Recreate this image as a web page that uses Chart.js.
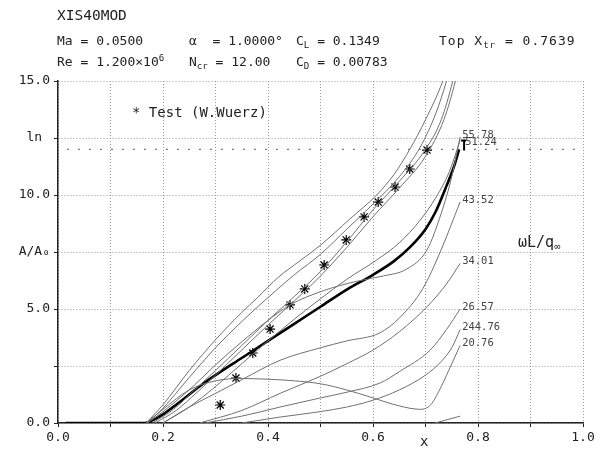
<!DOCTYPE html>
<html><head><meta charset="utf-8">
<script src="https://cdn.jsdelivr.net/npm/chart.js@4"></script>
<style>
html,body{margin:0;padding:0;background:#fff;}
#wrap{position:relative;width:605px;height:452px;overflow:hidden;background:#fff;}
canvas{position:absolute;left:0;top:0;}
.t{position:absolute;font-family:"DejaVu Sans Mono",monospace;font-size:13px;color:#222;white-space:pre;line-height:1;}
.t sub{font-size:70%;vertical-align:-3px;line-height:0;}
.t sup{font-size:70%;vertical-align:5px;line-height:0;}
</style></head><body>
<div id="wrap">
<canvas id="c" width="605" height="452"></canvas>
<div class="t" style="left:57px;top:8px;font-size:14.5px">XIS40MOD</div>
<div class="t" style="left:57px;top:34px">Ma = 0.0500</div>
<div class="t" style="left:189px;top:34px">α  = 1.0000°</div>
<div class="t" style="left:296px;top:34px">C<sub>L</sub> = 0.1349</div>
<div class="t" style="left:439px;top:34px;letter-spacing:1px">Top X<sub>tr</sub> = 0.7639</div>
<div class="t" style="left:57px;top:55px">Re = 1.200×10<sup>6</sup></div>
<div class="t" style="left:189px;top:55px">N<sub>cr</sub> = 12.00</div>
<div class="t" style="left:296px;top:55px">C<sub>D</sub> = 0.00783</div>
<div class="t" style="left:132px;top:105px;font-size:14px">* Test (W.Wuerz)</div>
<div class="t" style="left:518px;top:235px;font-size:15px">ωL/q<sub>∞</sub></div>
<div class="t" style="left:420px;top:434px;font-size:14px">x</div>
</div>
<script>
// ---- data ----
const xTickValues = [0,0.1,0.2,0.3,0.4,0.5,0.6,0.7,0.8,0.9,1.0];
const xTickLabels = ['0.0','','0.2','','0.4','','0.6','','0.8','','1.0'];
const yTickValues = [0,2.5,5,7.5,10,12.5,15];
const yTickLabels = ['0.0','','5.0','A/A₀','10.0','ln ','15.0'];

const nCrit = 12;
const nCritXStart = 0.017;

// test points (W. Wuerz)
const testX = [0.309,0.339,0.371,0.404,0.442,0.470,0.507,0.549,0.583,0.610,0.642,0.670,0.703];
const testY = [0.79,1.97,3.07,4.12,5.18,5.88,6.93,8.03,9.04,9.69,10.35,11.14,11.97];

// envelope N (thick)
const envX = [0.015,0.166,0.18,0.2,0.225,0.25,0.275,0.3,0.35,0.4,0.45,0.5,0.55,0.6,0.64,0.67,0.7,0.72,0.74,0.755,0.764];
const envY = [0,0,0.12,0.38,0.8,1.25,1.7,2.1,2.85,3.6,4.35,5.1,5.85,6.5,7.1,7.7,8.5,9.3,10.4,11.3,12.0];

// individual frequency curves [x, N]
const curveU1 = [[0.168,0],[0.2,0.8],[0.25,2.3],[0.3,3.65],[0.35,4.85],[0.38,5.5],[0.42,6.4],[0.46,7.1],[0.5,7.8],[0.556,8.95],[0.607,10.0],[0.64,10.9],[0.67,12.0],[0.7,13.3],[0.733,15],[0.74,15.5]];
const curveU2 = [[0.17,0],[0.2,0.65],[0.25,2.0],[0.3,3.3],[0.35,4.45],[0.4,5.5],[0.45,6.5],[0.5,7.4],[0.55,8.5],[0.6,9.6],[0.65,10.8],[0.69,12.1],[0.72,13.6],[0.74,15],[0.747,15.6]];
const curveL1 = [[0.18,0],[0.22,0.6],[0.26,1.45],[0.3,2.3],[0.35,3.4],[0.4,4.5],[0.45,5.55],[0.5,6.65],[0.55,7.95],[0.6,9.35],[0.65,10.6],[0.7,12.0],[0.73,13.3],[0.752,15],[0.758,15.6]];
const curveL2 = [[0.185,0],[0.225,0.55],[0.265,1.35],[0.3,2.1],[0.35,3.2],[0.4,4.3],[0.45,5.35],[0.5,6.45],[0.55,7.7],[0.6,9.05],[0.65,10.3],[0.7,11.7],[0.735,13.3],[0.757,15],[0.763,15.6]];
const curve5578 = [[0.17,0],[0.2,0.5],[0.257,1.6],[0.3,2.55],[0.347,3.5],[0.4,4.5],[0.442,5.18],[0.505,5.8],[0.566,6.2],[0.62,6.45],[0.664,6.75],[0.703,7.6],[0.73,9.2],[0.75,10.8],[0.766,12.55]];
const curve5124 = [[0.2,0],[0.25,0.7],[0.3,1.6],[0.35,2.6],[0.4,3.6],[0.45,4.55],[0.5,5.45],[0.55,6.3],[0.607,7.15],[0.65,7.9],[0.69,8.9],[0.72,9.9],[0.745,11.0],[0.766,12.4]];
const curve4352 = [[0.2,0],[0.25,0.7],[0.3,1.3],[0.35,1.9],[0.423,2.75],[0.5,3.3],[0.55,3.6],[0.613,3.95],[0.65,4.6],[0.695,5.9],[0.728,7.5],[0.766,9.7]];
const curve3401 = [[0.27,0],[0.35,0.55],[0.423,1.3],[0.5,2.05],[0.55,2.6],[0.6,3.2],[0.65,4.0],[0.703,5.1],[0.74,6.1],[0.766,7.0]];
const curve2657 = [[0.28,0],[0.35,0.3],[0.423,0.7],[0.5,1.1],[0.55,1.35],[0.613,1.75],[0.65,2.25],[0.709,3.2],[0.74,4.1],[0.766,5.0]];
const curve24476 = [[0.35,0],[0.423,0.26],[0.5,0.5],[0.55,0.7],[0.6,1.0],[0.65,1.45],[0.7,2.1],[0.73,2.7],[0.75,3.3],[0.766,4.1]];
const curve2076 = [[0.168,0],[0.2,0.6],[0.25,1.45],[0.3,1.85],[0.35,1.95],[0.4,1.92],[0.45,1.85],[0.5,1.72],[0.55,1.45],[0.6,1.1],[0.65,0.75],[0.69,0.6],[0.71,0.8],[0.73,1.6],[0.75,2.6],[0.766,3.4]];
const curveLow = [[0.718,0],[0.766,0.3]];

const labelledCurves = [curve5578,curve5124,curve4352,curve3401,curve2657,curve24476,curve2076];
const curveLabels = ['55.78','51.24','43.52','34.01','26.57','244.76','20.76'];
const plainCurves = [curveU1,curveU2,curveL1,curveL2,curveLow];

// ---- chart ----
const MONO = '"DejaVu Sans Mono", monospace';
const toPts = arr => arr.map(p => ({x:p[0], y:p[1]}));
const grayStyle = {borderColor:'#707070', borderWidth:1, pointRadius:0, cubicInterpolationMode:'monotone', fill:false};

const datasets = [];
plainCurves.concat(labelledCurves).forEach(c => datasets.push(Object.assign({data:toPts(c)}, grayStyle)));
datasets.push({data: envX.map((x,i)=>({x, y:envY[i]})), borderColor:'#000', borderWidth:2.6, pointRadius:0, cubicInterpolationMode:'monotone', fill:false});
datasets.push({data:[{x:nCritXStart,y:nCrit},{x:1,y:nCrit}], borderColor:'#777', borderWidth:1.3, borderDash:[2,9], pointRadius:0, fill:false});
datasets.push({data: testX.map((x,i)=>({x, y:testY[i]})), showLine:false, pointStyle:'star', pointRadius:5, borderColor:'#000', pointBorderWidth:1.2, backgroundColor:'#000'});

const labelPlugin = {
  id:'curveLabels',
  afterDatasetsDraw(chart){
    const {ctx, scales:{x,y}} = chart;
    ctx.save();
    ctx.font = '10.5px ' + MONO;
    ctx.fillStyle = '#444';
    ctx.textBaseline = 'middle';
    labelledCurves.forEach((c,i)=>{
      const p = c[c.length-1];
      const dx = i===1 ? 5 : 2;
      const dy = i===1 ? 2 : -2;
      ctx.fillText(curveLabels[i], x.getPixelForValue(p[0])+dx, y.getPixelForValue(p[1])+dy);
    });
    // transition marker
    const tx = x.getPixelForValue(envX[envX.length-1]) + 5;
    const ty = y.getPixelForValue(envY[envY.length-1]);
    ctx.strokeStyle = '#000'; ctx.lineWidth = 2;
    ctx.beginPath(); ctx.moveTo(tx, ty+1); ctx.lineTo(tx, ty-9); ctx.moveTo(tx-3, ty-9); ctx.lineTo(tx+2, ty-9); ctx.stroke();
    ctx.restore();
  }
};

new Chart(document.getElementById('c'), {
  type:'line',
  data:{datasets},
  options:{
    responsive:false, animation:false, devicePixelRatio:1,
    layout:{padding:{left:0,right:22,top:81,bottom:0}},
    plugins:{legend:{display:false}, tooltip:{enabled:false}},
    scales:{
      x:{type:'linear', min:0, max:1,
        afterFit(s){ s.height = 29; },
        afterBuildTicks(s){ s.ticks = xTickValues.map(v=>({value:v})); },
        ticks:{autoSkip:false, maxRotation:0, padding:3, color:'#222', font:{family:MONO, size:13},
          callback:(v)=>{ const i = xTickValues.findIndex(t=>Math.abs(t-v)<1e-6); return i>=0 ? xTickLabels[i] : ''; }},
        grid:{color:'#9a9a9a', lineWidth:1, tickLength:4, tickColor:'#222', drawTicks:true},
        border:{display:true, color:'#222', width:1.5, dash:[1,2]}
      },
      y:{type:'linear', min:0, max:15,
        afterFit(s){ s.width = 58; },
        afterBuildTicks(s){ s.ticks = yTickValues.map(v=>({value:v})); },
        ticks:{autoSkip:false, padding:4, color:'#222', font:{family:MONO, size:13},
          callback:(v)=>{ const i = yTickValues.findIndex(t=>Math.abs(t-v)<1e-6); return i>=0 ? yTickLabels[i] : ''; }},
        grid:{color:'#9a9a9a', lineWidth:1, tickLength:4, tickColor:'#222', drawTicks:true},
        border:{display:true, color:'#222', width:1.5, dash:[1,2]}
      }
    }
  },
  plugins:[labelPlugin]
});
</script>
</body></html>
